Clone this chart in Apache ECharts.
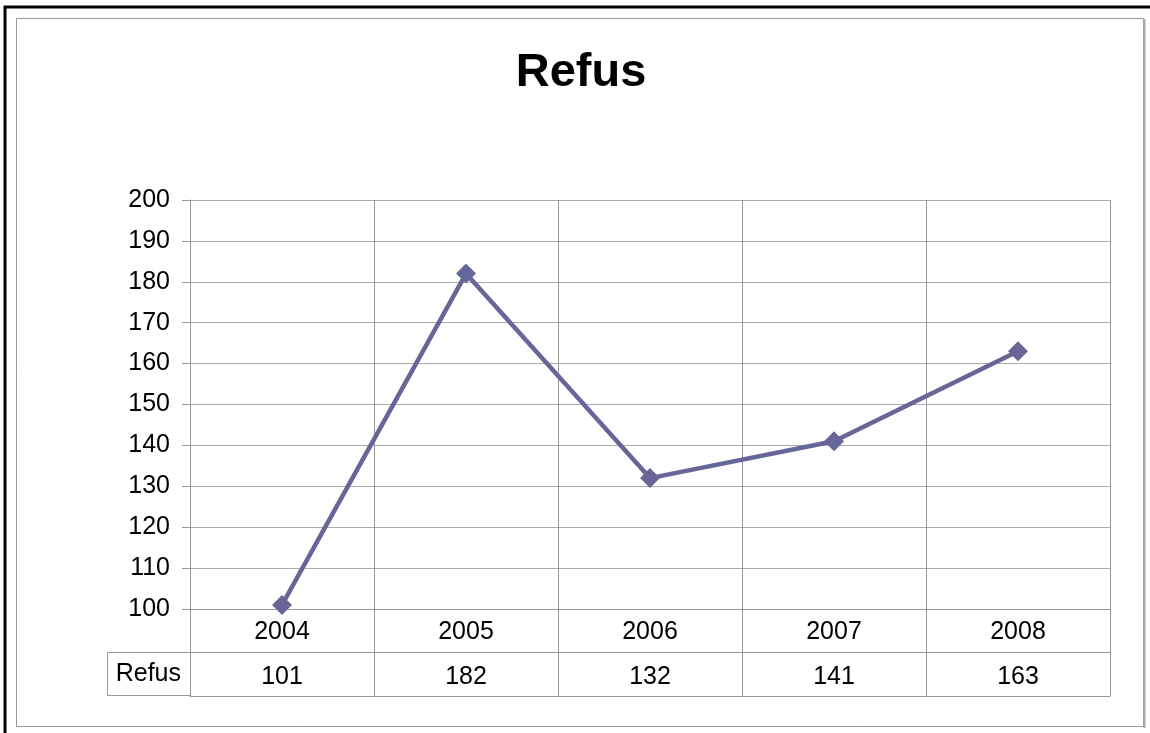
<!DOCTYPE html>
<html>
<head>
<meta charset="utf-8">
<script src="https://cdn.jsdelivr.net/npm/echarts@6/dist/echarts.min.js"></script>
<style>
  html, body { margin: 0; padding: 0; background: #fff; }
  #chart { width: 1150px; height: 733px; }
</style>
</head>
<body>
<div id="chart"></div>
<script>
// données
var years = ["2004", "2005", "2006", "2007", "2008"];
var refus = [101, 182, 132, 141, 163];
var seriesName = "Refus";
var yTicks = { min: 100, max: 200, step: 10 };

var font = "Liberation Sans, Arial, sans-serif";
var gridColor = "#999999";
var labelSize = 25;

var myChart = echarts.init(document.getElementById("chart"));
myChart.setOption({
  animation: false,
  backgroundColor: "#ffffff",
  title: {
    text: "Refus",
    left: 576,
    textAlign: "center",
    top: 45,
    textStyle: { fontFamily: font, fontSize: 47, fontWeight: "bold", color: "#000" },
  },
  grid: [
    // courbe
    { left: 190, top: 200, width: 920, height: 409, containLabel: false },
    // tableau de données
    { left: 190, top: 609, width: 920, height: 87, containLabel: false },
  ],
  xAxis: [
    {
      gridIndex: 0,
      type: "category",
      data: years,
      boundaryGap: true,
      axisTick: { show: false },
      axisLine: { show: true, lineStyle: { color: gridColor } },
      axisLabel: { fontFamily: font, fontSize: labelSize, color: "#000", margin: 11 },
      splitLine: { show: true, lineStyle: { color: gridColor, width: 1 } },
    },
    {
      gridIndex: 1,
      type: "category",
      data: years,
      boundaryGap: true,
      axisTick: { show: false },
      axisLine: { show: true, lineStyle: { color: gridColor } },
      axisLabel: {
        inside: true,
        margin: 6,
        fontFamily: font,
        fontSize: labelSize,
        color: "#000",
        formatter: function (v, i) {
          return String(refus[i]);
        },
      },
      splitLine: { show: true, lineStyle: { color: gridColor, width: 1 } },
    },
  ],
  yAxis: [
    {
      gridIndex: 0,
      type: "value",
      min: yTicks.min,
      max: yTicks.max,
      interval: yTicks.step,
      axisLine: { show: true, lineStyle: { color: gridColor } },
      axisTick: { show: true, length: 8, lineStyle: { color: gridColor } },
      axisLabel: { fontFamily: font, fontSize: labelSize, color: "#000", margin: 20 },
      splitLine: { show: true, lineStyle: { color: "#aaaaaa", width: 1 } },
    },
    {
      gridIndex: 1,
      type: "category",
      data: [seriesName, ""],
      boundaryGap: true,
      axisLine: { show: false },
      axisTick: { show: false },
      axisLabel: { fontFamily: font, fontSize: labelSize, color: "#000", margin: 9 },
      splitLine: { show: true, lineStyle: { color: gridColor, width: 1 } },
    },
  ],
  graphic: [
    // cadre noir extérieur
    { type: "rect", shape: { x: 5, y: 7, width: 1200, height: 800 }, style: { fill: null, stroke: "#000", lineWidth: 3 }, z: 0 },
    // cadre gris intérieur
    { type: "rect", shape: { x: 16.5, y: 18.5, width: 1127, height: 708 }, style: { fill: null, stroke: "#999", lineWidth: 1 }, z: 0 },
    { type: "line", shape: { x1: 1144.5, y1: 19, x2: 1144.5, y2: 728 }, style: { stroke: "#aaa", lineWidth: 2 }, z: 0 },
    // cellule "Refus" du tableau
    { type: "line", shape: { x1: 107.5, y1: 652.5, x2: 190, y2: 652.5 }, style: { stroke: gridColor, lineWidth: 1 }, z: 1 },
    { type: "line", shape: { x1: 107.5, y1: 695.5, x2: 190, y2: 695.5 }, style: { stroke: gridColor, lineWidth: 1 }, z: 1 },
    { type: "line", shape: { x1: 107.5, y1: 652.5, x2: 107.5, y2: 695.5 }, style: { stroke: gridColor, lineWidth: 1 }, z: 1 },
  ],
  series: [
    {
      name: seriesName,
      type: "line",
      xAxisIndex: 0,
      yAxisIndex: 0,
      data: refus,
      symbol: "diamond",
      symbolSize: 20,
      lineStyle: { color: "#666699", width: 4.5 },
      itemStyle: { color: "#666699" },
      z: 5,
    },
  ],
});
</script>
</body>
</html>
